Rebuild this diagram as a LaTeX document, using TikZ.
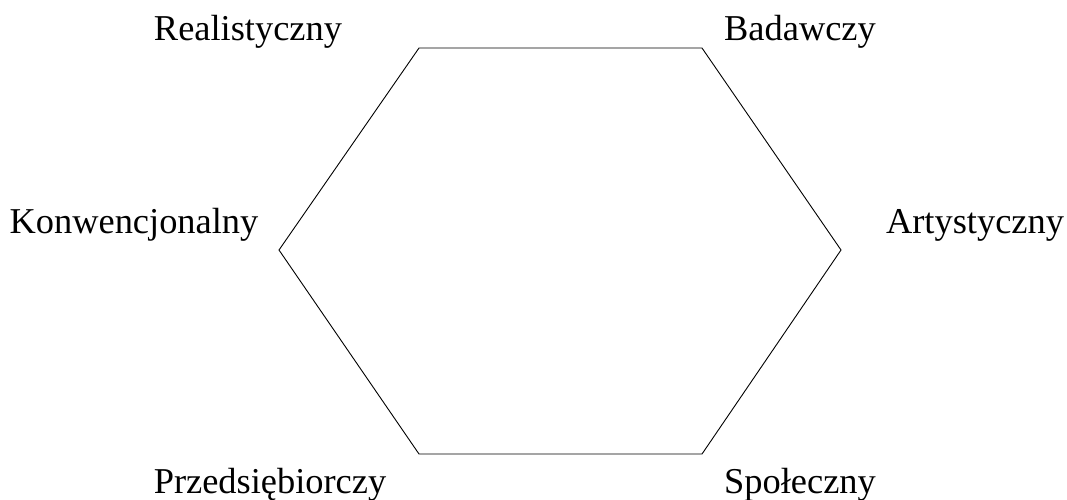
\documentclass[tikz,border=0pt]{standalone}
\usepackage{fontspec}
\setmainfont{Liberation Serif}
\begin{document}
\begin{tikzpicture}[x=1pt,y=-1pt,
  typ/.style={anchor=base,inner sep=0pt,font=\fontsize{36.4}{40}\selectfont}]
\useasboundingbox (0,0) rectangle (1067,499);
\draw[line width=0.9pt] (419,48) -- (702,48) -- (841,250) -- (702,454)
  -- (419,454) -- (279,250) -- cycle;
\node[typ] (real) at (248,40) {Realistyczny};
\node[typ] (bad) at (800,40) {Badawczy};
\node[typ] (konw) at (134,233) {Konwencjonalny};
\node[typ] (art) at (975,233) {Artystyczny};
\node[typ] (przed) at (270,493) {Przedsiębiorczy};
\node[typ] (spol) at (800,493) {Społeczny};
\end{tikzpicture}
\end{document}
